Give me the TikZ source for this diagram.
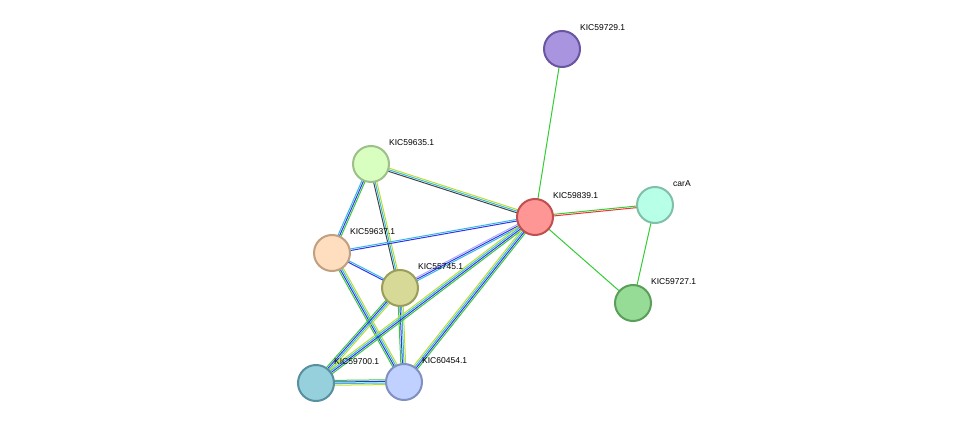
\documentclass[tikz,border=0pt]{standalone}
\usepackage{fontspec}
\setmainfont{Liberation Sans}
\usetikzlibrary{calc}
\definecolor{cg}{HTML}{33CC33}
\definecolor{cb}{HTML}{3333EE}
\definecolor{cc}{HTML}{33BBDD}
\definecolor{cy}{HTML}{BBDD33}
\definecolor{ck}{HTML}{444444}
\definecolor{cr}{HTML}{EE3333}
\definecolor{cl}{HTML}{AAAAFF}
\definecolor{fA}{RGB}{169,148,224}\definecolor{dA}{RGB}{106,85,160}
\definecolor{fB}{RGB}{255,150,150}\definecolor{dB}{RGB}{192,80,80}
\definecolor{fC}{RGB}{184,255,232}\definecolor{dC}{RGB}{128,192,168}
\definecolor{fD}{RGB}{150,220,150}\definecolor{dD}{RGB}{90,158,90}
\definecolor{fE}{RGB}{216,255,192}\definecolor{dE}{RGB}{157,192,136}
\definecolor{fF}{RGB}{255,222,192}\definecolor{dF}{RGB}{192,160,128}
\definecolor{fG}{RGB}{214,218,150}\definecolor{dG}{RGB}{154,158,90}
\definecolor{fH}{RGB}{150,208,220}\definecolor{dH}{RGB}{88,144,160}
\definecolor{fI}{RGB}{192,208,255}\definecolor{dI}{RGB}{128,144,192}
\newcommand{\eline}[4]{% a b offset color
  \draw[#4,line width=1pt] ($(#1)!#3!90:(#2)$) -- ($(#2)!#3!-90:(#1)$);}
\newcommand{\bundle}[3]{% a b {colors}
  \def\myn{0}\foreach \c in {#3}{\xdef\myn{\the\numexpr\myn+1\relax}}%
  \foreach \c [count=\i] in {#3}{\pgfmathsetmacro\off{(\i-(\myn+1)/2)*1.6}\eline{#1}{#2}{\off pt}{\c}}}
\tikzset{prot/.style={circle,minimum size=36pt,line width=2pt,inner sep=0pt},
 lab/.style={anchor=west,font=\fontsize{8.5}{10}\selectfont,inner sep=1pt}}
\begin{document}
\begin{tikzpicture}[x=1pt,y=-1pt]
\useasboundingbox (0,0) rectangle (975,430);
\coordinate (A) at (562,49);
\coordinate (B) at (535,217);
\coordinate (C) at (655,205);
\coordinate (D) at (633,303);
\coordinate (E) at (371,164);
\coordinate (F) at (332,253);
\coordinate (G) at (400,288);
\coordinate (H) at (316,383);
\coordinate (I) at (404,382);
\bundle{B}{A}{cg}
\bundle{B}{C}{cr,cg}
\bundle{B}{D}{cg}
\bundle{C}{D}{cg}
\bundle{E}{B}{ck,cc,cy}
\bundle{E}{F}{cc,cb,cg}
\bundle{E}{G}{ck,cc,cy}
\bundle{F}{B}{cb,cc}
\bundle{F}{G}{cb,cc}
\bundle{F}{I}{cg,cb,cc,cy}
\bundle{G}{B}{cc,cb,cl}
\bundle{G}{H}{cg,cb,cc,cy}
\bundle{G}{I}{cg,cb,cc,cy}
\bundle{H}{B}{cg,cb,cc,cy}
\bundle{I}{B}{cg,cb,cc,cy}
\bundle{H}{I}{cy,cc,cb,cg}
\node[prot,fill=fA,draw=dA] (nA) at (A) {};
\node[prot,fill=fB,draw=dB] (nB) at (B) {};
\node[prot,fill=fC,draw=dC] (nC) at (C) {};
\node[prot,fill=fD,draw=dD] (nD) at (D) {};
\node[prot,fill=fE,draw=dE] (nE) at (E) {};
\node[prot,fill=fF,draw=dF] (nF) at (F) {};
\node[prot,fill=fG,draw=dG] (nG) at (G) {};
\node[prot,fill=fH,draw=dH] (nH) at (H) {};
\node[prot,fill=fI,draw=dI] (nI) at (I) {};
\node[lab] (lA) at ($(A)+(17,-21)$) {KIC59729.1};
\node[lab] (lB) at ($(B)+(17,-21)$) {KIC59839.1};
\node[lab] (lC) at ($(C)+(17,-21)$) {carA};
\node[lab] (lD) at ($(D)+(17,-21)$) {KIC59727.1};
\node[lab] (lE) at ($(E)+(17,-21)$) {KIC59635.1};
\node[lab] (lF) at ($(F)+(17,-21)$) {KIC59637.1};
\node[lab] (lG) at ($(G)+(17,-21)$) {KIC55745.1};
\node[lab] (lH) at ($(H)+(17,-21)$) {KIC59700.1};
\node[lab] (lI) at ($(I)+(17,-21)$) {KIC60454.1};
\end{tikzpicture}
\end{document}
